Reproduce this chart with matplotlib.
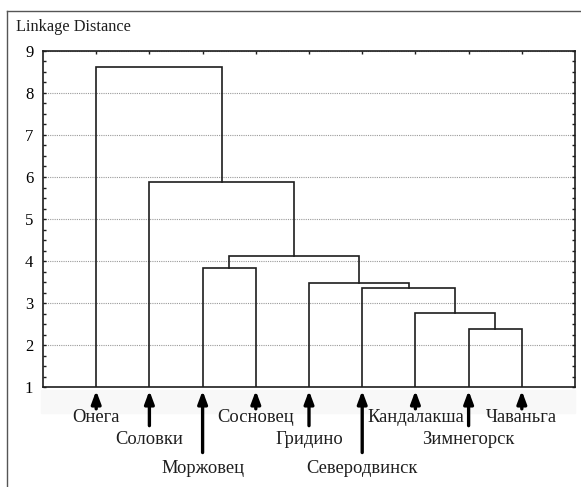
import matplotlib.pyplot as plt
from matplotlib.lines import Line2D
from matplotlib.patches import Rectangle
from matplotlib.transforms import blended_transform_factory

# leaves in dendrogram order
leaves = ["Онега", "Соловки", "Моржовец", "Сосновец", "Гридино",
          "Северодвинск", "Кандалакша", "Зимнегорск", "Чаваньга"]
# (cluster a, cluster b, linkage distance); new cluster ids start at len(leaves)
merges = [(7, 8, 2.37), (6, 9, 2.76), (5, 10, 3.36), (4, 11, 3.48),
          (2, 3, 3.83), (13, 12, 4.12), (1, 14, 5.87), (0, 15, 8.63)]
label_level = [0, 1, 2, 0, 1, 2, 0, 1, 0]

plt.rcParams['font.family'] = ['Liberation Serif', 'DejaVu Serif']
ink = '#1e1e1e'

fig = plt.figure(figsize=(5.81, 4.87), dpi=100)
ax = fig.add_axes([0.074, 0.2053, 0.9157, 0.69])

# dendrogram
xs = {i: i + 1 for i in range(len(leaves))}
hs = {i: 1.0 for i in range(len(leaves))}
for k, (a, b, h) in enumerate(merges):
    ax.plot([xs[a], xs[a], xs[b], xs[b]], [hs[a], h, h, hs[b]],
            color=ink, lw=1.2, solid_joinstyle='miter')
    new = len(leaves) + k
    xs[new] = (xs[a] + xs[b]) / 2
    hs[new] = h

ax.set_xlim(0, len(leaves) + 1)
ax.set_ylim(1, 9)
ax.set_yticks(range(1, 10))
ax.set_yticks([1 + 0.25 * i for i in range(33)], minor=True)
ax.set_xticks(range(1, len(leaves) + 1))
ax.set_xticklabels([])
ax.grid(axis='y', which='major', linestyle=(0, (1, 1)), color='#9a9a9a', lw=0.8)
ax.set_axisbelow(True)
ax.tick_params(axis='y', which='both', direction='in', left=True, right=True,
               length=2.5, width=1, color=ink, labelsize=12, pad=7)
ax.tick_params(axis='x', direction='in', top=True, bottom=False, length=2.5,
               width=1, color=ink)
for s in ax.spines.values():
    s.set_color(ink)
    s.set_linewidth(1.2)

# faint band under the axis
fig.add_artist(Rectangle((0.07, 1 - 413 / 487), 0.92, 23 / 487,
                         transform=fig.transFigure, color='#f8f8f8', zorder=0))

# arrows and labels under each leaf
trans = blended_transform_factory(ax.transData, ax.transAxes)
tails = [-0.065, -0.115, -0.195]
texts = [-0.092, -0.155, -0.242]
for i, name in enumerate(leaves):
    lv = label_level[i]
    ax.annotate('', xy=(i + 1, -0.011), xycoords=trans,
                xytext=(i + 1, tails[lv]), textcoords=trans,
                arrowprops=dict(arrowstyle='-|>,head_width=0.28,head_length=0.75',
                                lw=2.4, color='black', shrinkA=0, shrinkB=0,
                                mutation_scale=10),
                annotation_clip=False)
    ax.text(i + 1, texts[lv], name, transform=trans, ha='center', va='center',
            fontsize=13.3, color=ink, clip_on=False)

fig.text(0.0275, 1 - 27 / 487, "Linkage Distance", fontsize=11.8, color=ink,
         ha='left', va='center')

# outer frame (cropped panel)
fig.add_artist(Line2D([0.012, 0.012], [0, 0.977], transform=fig.transFigure,
                      color='#555555', lw=1))
fig.add_artist(Line2D([0.012, 1], [0.977, 0.977], transform=fig.transFigure,
                      color='#555555', lw=1))

fig.savefig('out.png', dpi=100)
